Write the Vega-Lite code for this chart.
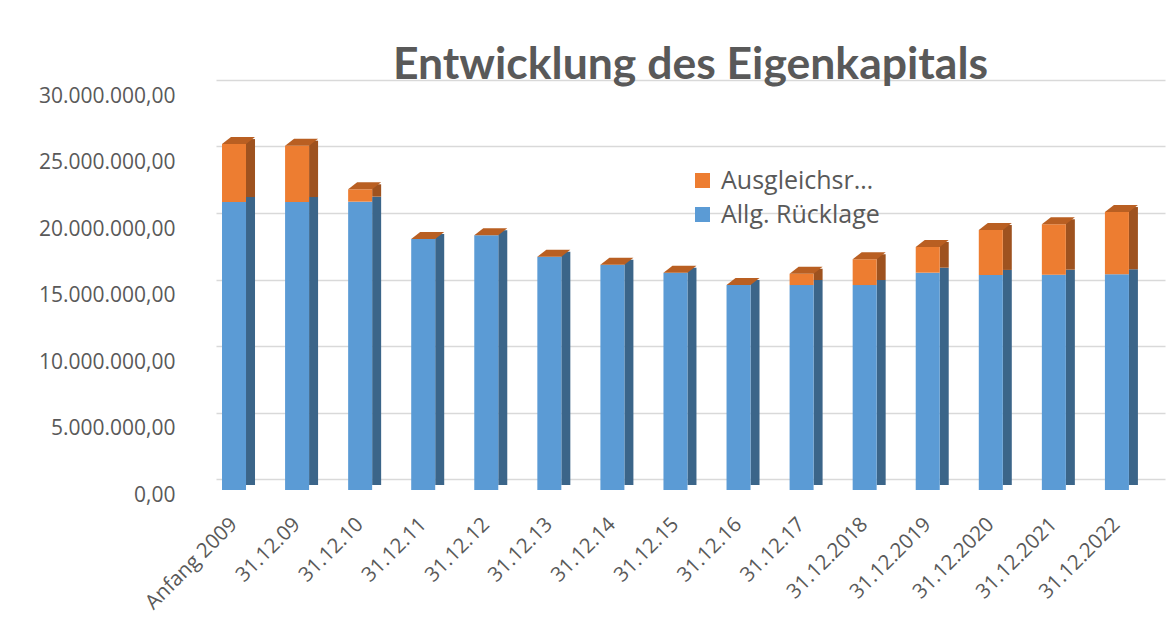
{
  "$schema": "https://vega.github.io/schema/vega-lite/v6.json",
  "width": 949,
  "height": 399,
  "autosize": {"type": "none"},
  "padding": {"left": 216, "top": 91, "right": 11, "bottom": 131},
  "background": "white",
  "config": {
    "view": {"stroke": null},
    "font": "Open Sans",
    "locale": {"number": {"decimal": ",", "thousands": ".", "grouping": [3], "currency": ["", " €"]}}
  },
  "title": {
    "text": "Entwicklung des Eigenkapitals",
    "font": "Lato",
    "fontSize": 44.5,
    "fontWeight": "bold",
    "color": "#595959",
    "anchor": "middle",
    "baseline": "alphabetic",
    "offset": 9,
    "dy": 47
  },
  "data": {
    "values": [
      {"cat": "Anfang 2009", "series": "Allg. Rücklage", "value": 21650000},
      {"cat": "Anfang 2009", "series": "Ausgleichsrücklage", "value": 4360000},
      {"cat": "31.12.09", "series": "Allg. Rücklage", "value": 21650000},
      {"cat": "31.12.09", "series": "Ausgleichsrücklage", "value": 4240000},
      {"cat": "31.12.10", "series": "Allg. Rücklage", "value": 21680000},
      {"cat": "31.12.10", "series": "Ausgleichsrücklage", "value": 930000},
      {"cat": "31.12.11", "series": "Allg. Rücklage", "value": 18870000},
      {"cat": "31.12.11", "series": "Ausgleichsrücklage", "value": 0},
      {"cat": "31.12.12", "series": "Allg. Rücklage", "value": 19150000},
      {"cat": "31.12.12", "series": "Ausgleichsrücklage", "value": 0},
      {"cat": "31.12.13", "series": "Allg. Rücklage", "value": 17540000},
      {"cat": "31.12.13", "series": "Ausgleichsrücklage", "value": 0},
      {"cat": "31.12.14", "series": "Allg. Rücklage", "value": 16940000},
      {"cat": "31.12.14", "series": "Ausgleichsrücklage", "value": 0},
      {"cat": "31.12.15", "series": "Allg. Rücklage", "value": 16340000},
      {"cat": "31.12.15", "series": "Ausgleichsrücklage", "value": 0},
      {"cat": "31.12.16", "series": "Allg. Rücklage", "value": 15410000},
      {"cat": "31.12.16", "series": "Ausgleichsrücklage", "value": 0},
      {"cat": "31.12.17", "series": "Allg. Rücklage", "value": 15410000},
      {"cat": "31.12.17", "series": "Ausgleichsrücklage", "value": 850000},
      {"cat": "31.12.2018", "series": "Allg. Rücklage", "value": 15410000},
      {"cat": "31.12.2018", "series": "Ausgleichsrücklage", "value": 1940000},
      {"cat": "31.12.2019", "series": "Allg. Rücklage", "value": 16340000},
      {"cat": "31.12.2019", "series": "Ausgleichsrücklage", "value": 1930000},
      {"cat": "31.12.2020", "series": "Allg. Rücklage", "value": 16170000},
      {"cat": "31.12.2020", "series": "Ausgleichsrücklage", "value": 3380000},
      {"cat": "31.12.2021", "series": "Allg. Rücklage", "value": 16190000},
      {"cat": "31.12.2021", "series": "Ausgleichsrücklage", "value": 3790000},
      {"cat": "31.12.2022", "series": "Allg. Rücklage", "value": 16220000},
      {"cat": "31.12.2022", "series": "Ausgleichsrücklage", "value": 4680000}
    ]
  },
  "encoding": {
    "x": {
      "field": "cat",
      "type": "nominal",
      "sort": null,
      "scale": {"paddingInner": 0.5, "paddingOuter": 0.274, "align": 0.065},
      "axis": {
        "title": null,
        "labelAngle": -45,
        "labelAlign": "right",
        "labelBaseline": "middle",
        "labelPadding": 31,
        "labelFontSize": 20.5,
        "labelColor": "#595959",
        "labelFont": "Open Sans",
        "domain": false,
        "ticks": false,
        "grid": false
      }
    }
  },
  "layer": [
    {
      "mark": {"type": "bar", "width": 9, "xOffset": 16.5, "yOffset": -5, "y2Offset": -5},
      "encoding": {
        "y": {
          "field": "value",
          "type": "quantitative",
          "stack": "zero",
          "scale": {"domain": [0, 30000000], "nice": false},
          "axis": {
            "orient": "left",
            "title": null,
            "labels": false,
            "ticks": false,
            "domain": false,
            "grid": true,
            "gridColor": "#d9d9d9",
            "gridWidth": 1.6,
            "tickOffset": -11,
            "values": [0, 5000000, 10000000, 15000000, 20000000, 25000000, 30000000]
          }
        },
        "detail": {"field": "series"},
        "order": {"field": "series", "sort": "ascending"},
        "fill": {
          "condition": {"test": "datum.series === 'Allg. Rücklage'", "value": "#3B6589"},
          "value": "#9E521F"
        }
      }
    },
    {
      "mark": {"type": "bar", "width": 24},
      "encoding": {
        "y": {
          "field": "value",
          "type": "quantitative",
          "stack": "zero",
          "axis": {
            "orient": "left",
            "title": null,
            "grid": false,
            "ticks": false,
            "domain": false,
            "labelPadding": 41,
            "tickOffset": 5,
            "format": ",.2f",
            "labelFontSize": 21,
            "labelColor": "#595959",
            "labelFont": "Open Sans",
            "values": [0, 5000000, 10000000, 15000000, 20000000, 25000000, 30000000]
          }
        },
        "color": {
          "field": "series",
          "type": "nominal",
          "scale": {"domain": ["Ausgleichsrücklage", "Allg. Rücklage"], "range": ["#ED7D31", "#5B9BD5"]},
          "legend": {
            "title": null,
            "orient": "none",
            "legendX": 474,
            "legendY": 77,
            "symbolType": "square",
            "symbolSize": 225,
            "symbolStrokeWidth": 0,
            "labelFontSize": 25,
            "labelColor": "#595959",
            "labelFont": "Open Sans",
            "labelLimit": 300,
            "labelExpr": "datum.label === 'Ausgleichsrücklage' ? 'Ausgleichsr…' : datum.label",
            "labelOffset": 6,
            "rowPadding": 8
          }
        },
        "order": {"field": "series", "sort": "ascending"}
      }
    },
    {
      "mark": {
        "type": "point",
        "shape": "M-12,0L12,0L21,-7L-3,-7Z",
        "size": 4,
        "filled": true,
        "fill": "#B95F22",
        "strokeWidth": 0,
        "opacity": 1
      },
      "encoding": {
        "y": {"aggregate": "sum", "field": "value", "type": "quantitative", "axis": null}
      }
    }
  ],
  "resolve": {"axis": {"y": "independent"}}
}
